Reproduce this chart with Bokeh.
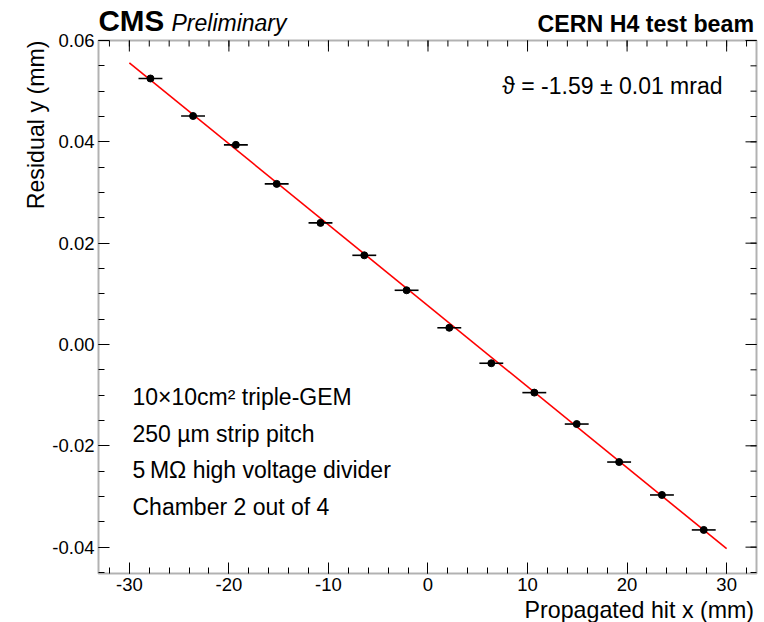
import math
import numpy as np
from bokeh.plotting import figure
from bokeh.models import Range1d, FixedTicker, LinearAxis, Label, BoxAnnotation
from bokeh.embed import file_html
from bokeh.resources import INLINE

# ---- data ----
hit_x = [-27.88, -23.6, -19.3, -15.2, -10.8, -6.4, -2.15, 2.14, 6.36, 10.68, 14.94, 19.2, 23.5, 27.7]
resid_y = [0.0525, 0.0451, 0.0394, 0.0317, 0.0240, 0.0176, 0.0107, 0.0033, -0.0037, -0.0095,
           -0.0157, -0.0232, -0.0297, -0.0366]
hit_x_err = [1.2, 1.2, 1.2, 1.2, 1.2, 1.2, 1.2, 1.2, 1.2, 1.2, 1.2, 1.2, 1.2, 1.2]
fit_x = [-30.0, 30.0]
fit_y = [0.0556, -0.0403]

x_ticks = [-30, -20, -10, 0, 10, 20, 30]
x_tick_labels = ["-30", "-20", "-10", "0", "10", "20", "30"]
y_ticks = [-0.04, -0.02, 0.0, 0.02, 0.04, 0.06]
y_tick_labels = ["-0.04", "-0.02", "0.00", "0.02", "0.04", "0.06"]

info_lines = ["10×10cm² triple-GEM", "250 µm strip pitch", "5\u2009MΩ high voltage divider", "Chamber 2 out of 4"]
fit_text = "ϑ = -1.59 ± 0.01 mrad"

# ---- layout ----
W, H = 764, 622
FL, FR, FT, FB = 98, 756, 40, 573          # frame box in pixels
X0, X1 = -33.1, 33.0                        # axis extents (data)
Y0, Y1 = -0.0452, 0.06
FONT = "Liberation Sans"
MAJ, MIN = 11, 6                            # tick lengths (px), drawn inward

sx = (FR - FL) / (X1 - X0)
sy = (FB - FT) / (Y1 - Y0)
xr = Range1d(X0 - FL / sx, X1 + (W - FR) / sx)
yr = Range1d(Y0 - (H - FB) / sy, Y1 + FT / sy)

p = figure(width=W, height=H, x_range=xr, y_range=yr,
           output_backend="svg", toolbar_location=None,
           x_axis_location=None, y_axis_location=None,
           min_border_left=0, min_border_right=0, min_border_top=0, min_border_bottom=0)
p.min_border = 0
p.background_fill_color = "white"
p.border_fill_color = "white"
p.outline_line_color = None
p.grid.visible = False

# frame box
p.add_layout(BoxAnnotation(left=X0, right=X1, bottom=Y0, top=Y1, fill_alpha=0,
                           line_color="black", line_width=2))

x_minor = [float(v) for v in np.arange(-32, 33, 2)]
y_minor = [round(float(v), 4) for v in np.arange(-0.045, 0.0601, 0.005)]

def make_axis(place, loc, bounds, ticks, minor, labels):
    ax = LinearAxis(fixed_location=loc, bounds=bounds)
    ax.ticker = FixedTicker(ticks=ticks, minor_ticks=minor)
    ax.axis_line_color = None
    ax.major_tick_in = MAJ
    ax.major_tick_out = 0
    ax.minor_tick_in = MIN
    ax.minor_tick_out = 0
    ax.major_tick_line_color = "black"
    ax.minor_tick_line_color = "black"
    ax.major_tick_line_width = 1
    ax.minor_tick_line_width = 1
    ax.major_label_overrides = {t: l for t, l in zip(ticks, labels)}
    ax.major_label_text_font = FONT
    ax.major_label_text_font_size = "18.5px"
    ax.major_label_text_color = "black"
    ax.major_label_standoff = 4
    p.add_layout(ax, place)
    return ax

make_axis("below", Y0, (X0, X1), x_ticks, x_minor, x_tick_labels)
make_axis("left", X0, (Y0, Y1), y_ticks, y_minor, y_tick_labels)

# mirrored ticks on the top and right frame edges (ROOT style)
x_all = list(x_ticks) + x_minor
x_len = [MAJ / sy] * len(x_ticks) + [MIN / sy] * len(x_minor)
p.segment(x0=x_all, x1=x_all, y0=[Y1] * len(x_all), y1=[Y1 - l for l in x_len],
          line_color="black", line_width=1)
y_all = list(y_ticks) + y_minor
y_len = [MAJ / sx] * len(y_ticks) + [MIN / sx] * len(y_minor)
p.segment(x0=[X1] * len(y_all), x1=[X1 - l for l in y_len], y0=y_all, y1=y_all,
          line_color="black", line_width=1)

# fit line
p.line(fit_x, fit_y, line_color="#ff0000", line_width=1.6)

# error bars and points
x_lo = [x - e for x, e in zip(hit_x, hit_x_err)]
x_hi = [x + e for x, e in zip(hit_x, hit_x_err)]
p.segment(x0=x_lo, x1=x_hi, y0=resid_y, y1=resid_y, line_color="black", line_width=1.6)
p.scatter(hit_x, resid_y, size=7, fill_color="black", line_color="black")

def add_label(text, x, y, xo, yo, size, align="left", style="normal", angle=0.0):
    k = 0.4 * size  # baseline correction (text drawn lower than the anchor otherwise)
    if angle == 0.0:
        yo = yo + k
    else:
        xo = xo - k
    p.add_layout(Label(x=x, y=y, x_offset=xo, y_offset=yo, text=text, text_font=FONT,
                       text_font_size=f"{size}px", text_font_style=style, text_align=align,
                       text_baseline="alphabetic", text_color="black", angle=angle))

add_label("CMS", X0, Y1, 0, 8, 29.6, style="bold")
add_label("Preliminary", X0, Y1, 73, 8, 23, style="italic")
add_label("CERN H4 test beam", X1, Y1, -2.5, 7, 23.2, align="right", style="bold")
add_label("Propagated hit x (mm)", X1, Y0, -2.5, -46, 23.2, align="right")
add_label("Residual y (mm)", X0, Y1, -53, 0, 23.2, align="right", angle=math.pi / 2)
add_label(fit_text, X1, Y1, -34, -55, 23, align="right")
for i, line in enumerate(info_lines):
    add_label(line, X0, Y1, 34, -366 - 36.5 * i, 23)

open("out.html", "w").write(file_html(p, INLINE))
